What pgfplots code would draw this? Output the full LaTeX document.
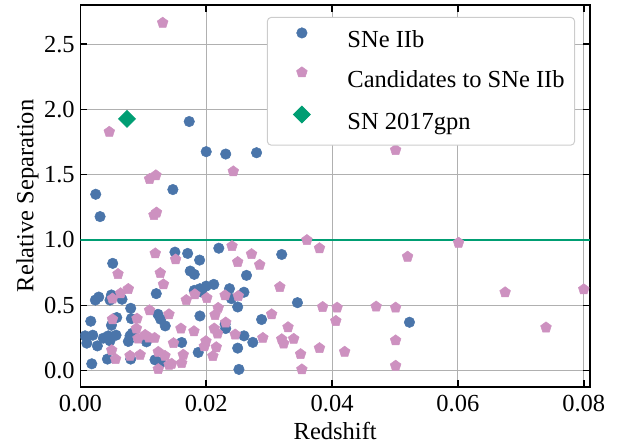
\documentclass[border=0pt]{standalone}
\usepackage{fontspec}
\setmainfont{Liberation Serif}
\usepackage{pgfplots}
\pgfplotsset{compat=1.18}
\usetikzlibrary{plotmarks}

\definecolor{snblue}{HTML}{4A75AA}
\definecolor{snpink}{HTML}{CD91C0}
\definecolor{sngreen}{HTML}{009E73}

\begin{document}
\begin{tikzpicture}
\begin{axis}[
    scale only axis,
    width=208pt, height=155.9pt,
    xmin=0, xmax=0.081,
    ymin=-0.125, ymax=2.8,
    xtick={0,0.02,0.04,0.06,0.08},
    ytick={0,0.5,1,1.5,2,2.5},
    scaled x ticks=false,
    /pgf/number format/assume math mode=true,
    xticklabel style={/pgf/number format/.cd, fixed, fixed zerofill, precision=2},
    yticklabel style={xshift=1.2pt, /pgf/number format/.cd, fixed, fixed zerofill, precision=1},
    xlabel={Redshift},
    ylabel={Relative Separation},
    xlabel style={at={(axis description cs:0.5,-0.1386)}, anchor=base},
    ylabel style={at={(axis description cs:-0.0923,0.5)}, anchor=base},
    grid=major,
    major grid style={line width=0.4pt, draw=black!31},
    axis line style={line width=0.6pt},
    tick style={line width=0.6pt, black},
    major tick length=2.9pt,
    clip marker paths=true,
    legend cell align=left,
    legend style={at={(1,1)}, anchor=north east, xshift=-6.1pt, yshift=-4.9pt,
        draw=black!20, line width=0.4pt, rounded corners=1.6pt, fill=white,
        inner xsep=4.1pt, inner ysep=4.2pt, row sep=5.5pt,
        nodes={inner sep=0pt, text height=7pt, text depth=2.2pt}},
    legend image code/.code={\path (-9.8pt,0pt) (18.4pt,0pt);
        \draw[sharp corners,#1] plot coordinates {(0pt,3.7pt)};},
]
% threshold line
\addplot[sngreen, line width=0.8pt, forget plot] coordinates {(0,1) (0.081,1)};

\addplot[only marks, mark=*, mark size=2.15pt, color=snblue, mark options={line width=0.2pt}] coordinates {
(0.00244,1.350) (0.00313,1.179) (0.0173,1.907) (0.0200,1.676) (0.0231,1.658)
(0.0280,1.668) (0.0147,1.386) (0.00514,0.821) (0.01503,0.907) (0.01705,0.897)
(0.01895,0.846) (0.0220,0.937) (0.0320,0.889) (0.01746,0.762) (0.0181,0.737)
(0.0264,0.729) (0.0212,0.660) (0.0200,0.647) (0.0190,0.627) (0.0181,0.614)
(0.0192,0.602) (0.0237,0.627) (0.0260,0.600) (0.0240,0.551) (0.0250,0.487)
(0.0345,0.520) (0.01206,0.589) (0.00238,0.540) (0.00292,0.563) (0.00471,0.540)
(0.00493,0.579) (0.00662,0.546) (0.0080,0.477) (0.01233,0.431) (0.01276,0.393)
(0.01349,0.342) (0.00165,0.378) (0.00578,0.406) (0.0081,0.398) (0.00494,0.347)
(0.0190,0.418) (0.0230,0.355) (0.0231,0.322) (0.0288,0.391) (0.0260,0.266)
(0.0274,0.216) (0.0161,0.215) (0.0250,0.172) (0.01873,0.139) (0.0252,0.009)
(0.0105,0.220) (0.00075,0.266) (0.00197,0.271) (0.00102,0.210) (0.0027,0.189)
(0.00365,0.248) (0.00444,0.266) (0.00471,0.228) (0.00567,0.271) (0.00789,0.266)
(0.00825,0.286) (0.00762,0.223) (0.00181,0.052) (0.0043,0.088) (0.0080,0.088)
(0.01186,0.082) (0.0128,0.063) (0.0523,0.370)
};

\addplot[only marks, mark=pentagon*, mark size=2.3pt, color=snpink, mark options={line width=0.2pt}] coordinates {
(0.01308,2.663) (0.0046,1.828) (0.0243,1.525) (0.0110,1.467) (0.0120,1.495)
(0.0117,1.19) (0.0121,1.21) (0.0501,1.689) (0.0601,0.979) (0.0520,0.872)
(0.0675,0.599) (0.0740,0.330) (0.0800,0.622) (0.0408,0.482) (0.0470,0.490)
(0.0501,0.482) (0.0406,0.380) (0.0501,0.231) (0.0420,0.144) (0.0501,0.037)
(0.0360,0.999) (0.0380,0.937) (0.0272,0.892) (0.0285,0.810) (0.0317,0.640)
(0.0385,0.487) (0.0304,0.431) (0.0330,0.332) (0.0290,0.250) (0.0320,0.240)
(0.0323,0.207) (0.0339,0.243) (0.0350,0.126) (0.0380,0.172) (0.0352,0.009)
(0.0241,0.953) (0.01514,0.851) (0.0250,0.831) (0.0132,0.660) (0.0182,0.584)
(0.0201,0.556) (0.01683,0.540) (0.0230,0.576) (0.0251,0.571) (0.0219,0.480)
(0.0214,0.426) (0.01408,0.431) (0.0231,0.368) (0.02127,0.322) (0.0218,0.284)
(0.01598,0.322) (0.01805,0.301) (0.0246,0.276) (0.0148,0.210) (0.01995,0.225)
(0.0197,0.185) (0.0216,0.179) (0.01635,0.121) (0.02106,0.111) (0.0161,0.057)
(0.0145,0.052) (0.0141,0.044) (0.0119,0.897) (0.00598,0.739) (0.0127,0.747)
(0.00762,0.625) (0.0064,0.592) (0.0051,0.551) (0.0110,0.462) (0.0051,0.393)
(0.0090,0.398) (0.0089,0.322) (0.0109,0.253) (0.0118,0.250) (0.00916,0.246)
(0.0103,0.273) (0.00498,0.156) (0.0056,0.088) (0.00789,0.113) (0.0095,0.121)
(0.01238,0.011) (0.01238,0.143) (0.01344,0.113)
};

\addplot[only marks, mark=square*, mark size=2.4pt, color=sngreen, mark options={rotate=45}] coordinates {
(0.00741,1.927)
};

\legend{SNe IIb, Candidates to SNe IIb, SN 2017gpn}
\end{axis}
\pgfresetboundingbox
\path ([xshift=-32.8pt,yshift=-23.3pt]current axis.south west) rectangle ([xshift=16.3pt,yshift=2pt]current axis.north east);
\end{tikzpicture}
\end{document}
